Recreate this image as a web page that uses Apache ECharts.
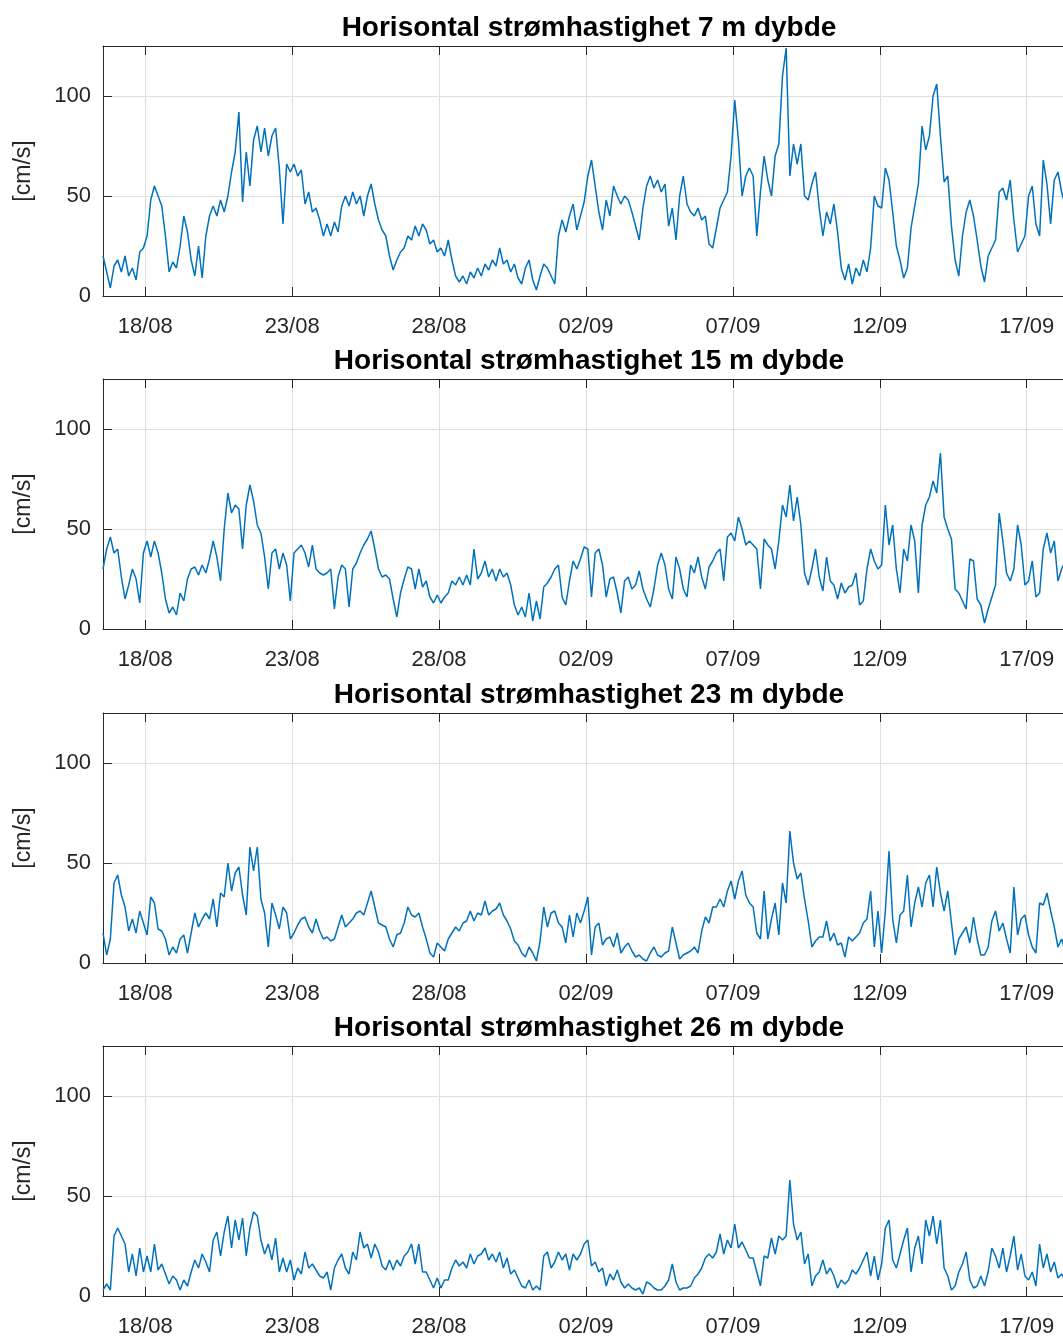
<!DOCTYPE html>
<html>
<head>
<meta charset="utf-8">
<script src="https://cdn.jsdelivr.net/npm/echarts@6/dist/echarts.min.js"></script>
<style>
  html, body { margin: 0; padding: 0; overflow: hidden; background: #ffffff; }
  #chart { width: 1075px; height: 1338px; }
</style>
</head>
<body>
<div id="chart"></div>
<script>
// Horizontal current speed [cm/s], one value every 3 hours from 16/08 13:30
const depths = ['7', '15', '23', '26'];

const speed7 = [
  20,12,4,15,18,12,20,10,
  14,8,22,24,30,48,55,50,
  45,30,12,17,14,25,40,32,
  18,10,25,9,30,40,45,40,
  48,42,50,62,72,92,47,72,
  55,78,85,72,84,70,80,84,
  64,36,66,62,66,60,63,46,
  52,42,44,38,30,36,30,37,
  32,45,50,45,52,46,50,40,
  50,56,46,38,33,30,20,13,
  18,22,24,30,28,35,30,36,
  33,26,28,22,24,20,28,18,
  10,7,10,6,12,9,14,10,
  16,13,18,15,24,16,18,12,
  16,9,6,14,18,8,3,10,
  16,14,10,6,30,38,32,40,
  46,33,40,47,60,68,55,42,
  33,48,40,55,50,46,50,48,
  42,35,28,44,55,60,54,58,
  52,56,35,44,28,50,60,46,
  42,40,44,38,40,26,24,34,
  44,48,52,70,98,78,50,60,
  64,
  60,30,52,70,58,50,70,76,
  110,124,60,76,66,76,50,48,
  56,62,44,30,42,36,46,32,
  14,8,16,6,14,10,18,12,
  24,50,45,44,64,58,42,25,
  18,9,14,34,45,56,85,73,
  80,100,106,80,57,60,35,18,
  10,30,42,48,40,28,15,7,
  20,24,28,52,54,48,58,38,
  22,26,30,50,55,36,30,68,
  56,36,58,62,52,45,50,55
];

const speed15 = [
  30,40,46,38,40,26,15,22,
  30,25,13,38,44,36,44,38,
  28,15,8,11,7,18,14,25,
  30,31,27,32,28,35,44,36,
  24,50,68,58,62,60,40,62,
  72,64,52,48,36,20,38,40,
  30,38,32,14,38,40,42,38,
  31,42,30,28,27,28,30,10,
  26,32,30,11,30,33,38,42,
  45,49,40,30,26,27,25,15,
  6,18,25,31,30,20,30,21,
  24,16,13,17,13,16,18,24,
  22,26,22,27,22,40,25,28,
  34,26,30,24,30,26,28,22,
  12,7,11,6,18,4,14,5,
  21,23,26,30,32,16,12,24,
  34,30,35,41,40,16,38,40,
  32,16,25,26,18,8,24,26,
  20,22,29,20,15,11,20,32,
  38,32,20,15,36,30,20,16,
  32,28,36,26,20,31,34,38,
  40,24,46,48,44,56,50,42,
  44,
  42,40,20,45,42,40,30,44,
  62,56,72,54,66,52,28,22,
  30,40,26,19,36,24,22,15,
  23,18,21,22,28,12,14,30,
  40,34,30,32,62,42,52,30,
  18,40,34,52,44,18,52,62,
  66,74,68,88,56,50,45,20,
  18,14,10,35,34,15,12,3,
  10,16,22,58,44,28,24,30,
  52,42,22,24,34,16,18,40,
  48,38,44,24,30,34,38,36
];

const speed23 = [
  15,4,12,40,44,34,28,16,
  22,15,26,20,14,33,30,17,
  16,12,4,8,5,12,14,5,
  15,25,18,22,25,22,32,18,
  35,33,50,36,45,48,34,24,
  58,46,58,32,25,8,30,24,
  17,28,25,12,15,19,22,23,
  18,15,22,16,12,13,11,12,
  18,24,18,20,22,25,26,24,
  30,36,28,20,19,18,12,8,
  14,15,20,28,24,23,25,18,
  12,5,3,10,8,6,12,15,
  18,16,20,21,26,21,25,24,
  31,24,26,27,30,24,21,17,
  11,9,5,3,8,5,1,11,
  28,18,25,26,20,18,10,24,
  13,25,20,26,33,4,18,20,
  9,12,13,8,15,5,8,10,
  6,3,4,2,1,5,8,4,
  3,5,6,18,10,2,4,5,
  6,8,5,16,23,20,28,28,
  32,28,36,41,32,41,46,34,
  30,
  28,15,12,36,12,22,30,14,
  40,30,66,50,42,45,32,21,
  8,11,13,13,21,11,15,9,
  10,3,13,11,13,15,20,22,
  36,8,26,5,26,56,22,10,
  24,26,44,18,30,38,28,40,
  44,28,48,35,26,36,20,4,
  12,15,18,10,23,12,4,4,
  8,21,26,16,20,12,5,38,
  14,22,24,14,8,5,30,29,
  35,26,18,8,12,6,10,8
];

const speed26 = [
  3,6,3,30,34,30,26,12,
  21,10,24,12,20,12,26,13,
  16,11,6,10,8,3,8,5,
  12,18,14,21,17,12,28,32,
  20,32,40,24,38,28,39,20,
  34,42,40,28,21,26,18,29,
  12,19,12,18,8,14,11,22,
  14,16,13,10,9,12,3,14,
  18,21,14,11,22,18,32,24,
  26,19,26,22,15,13,18,13,
  18,15,20,22,26,16,26,12,
  12,8,4,9,4,8,8,14,
  18,15,17,14,21,16,20,21,
  24,18,21,17,22,14,19,11,
  13,9,5,4,8,3,5,3,
  20,22,14,17,22,18,21,13,
  21,18,21,26,28,15,17,12,
  14,5,11,8,13,7,4,6,
  4,3,4,1,7,6,4,3,
  3,5,8,16,7,3,4,4,
  5,9,11,14,19,21,19,22,
  31,21,28,24,36,24,27,23,
  19,
  19,12,5,20,19,29,21,30,
  28,30,58,36,28,32,16,21,
  5,10,12,18,11,14,10,4,
  8,6,8,13,11,14,18,22,
  10,20,8,16,34,38,18,14,
  21,28,34,12,24,30,16,38,
  30,40,26,38,14,10,3,5,
  12,16,22,8,4,5,10,5,
  12,24,20,14,24,12,20,30,
  13,21,10,8,12,5,26,14,
  21,12,17,9,11,8,12,10
];

// Date ticks every five days (day, month)
const tickDays = [[18, 8], [23, 8], [28, 8], [2, 9], [7, 9], [12, 9], [17, 9]];
const yTicks = [0, 50, 100];
const yLabel = '[cm/s]';

const YEAR = 2021;
const startTime = Date.UTC(YEAR, 7, 16, 13, 30);
const stepMs = 3 * 3600 * 1000;
const xMin = startTime;
const xMax = Date.UTC(YEAR, 8, 18, 15, 25);
const tickTimes = tickDays.map(([d, m]) => Date.UTC(YEAR, m - 1, d));

const seriesValues = [speed7, speed15, speed23, speed26];
const titles = depths.map(d => 'Horisontal strømhastighet ' + d + ' m dybde');

const FONT = '"Liberation Sans", Arial, Helvetica, sans-serif';
const AX = '#262626';
const GRIDC = '#dedede';

const pad2 = n => (n < 10 ? '0' : '') + n;
const fmtDate = v => { const d = new Date(v); return pad2(d.getUTCDate()) + '/' + pad2(d.getUTCMonth() + 1); };

const plotLeft = 103, plotWidth = 972, plotHeight = 250;
const plotTops = [46, 379, 713, 1046];

const grid = [], xAxis = [], yAxis = [], series = [], title = [];

plotTops.forEach((top, k) => {
  grid.push({ left: plotLeft, width: plotWidth, top: top, height: plotHeight, containLabel: false });

  title.push({
    text: titles[k],
    left: plotLeft + plotWidth / 2,
    top: top - 32,
    textAlign: 'center',
    padding: 0,
    textStyle: { fontFamily: FONT, fontSize: 28, fontWeight: 'bold', color: '#000000' }
  });

  // bottom date axis (milliseconds, labelled as dd/mm)
  xAxis.push({
    type: 'value', gridIndex: k, position: 'bottom', min: xMin, max: xMax,
    axisLine: { show: true, lineStyle: { color: AX, width: 1 } },
    axisTick: { show: true, inside: true, length: 9, customValues: tickTimes, lineStyle: { color: AX, width: 1 } },
    axisLabel: { show: true, customValues: tickTimes, formatter: fmtDate, margin: 20,
                 fontFamily: FONT, fontSize: 22, color: AX },
    splitLine: { show: true, lineStyle: { color: GRIDC, width: 1 } }
  });
  // top frame with matching ticks
  xAxis.push({
    type: 'value', gridIndex: k, position: 'top', min: xMin, max: xMax,
    axisLine: { show: true, lineStyle: { color: AX, width: 1 } },
    axisTick: { show: true, inside: true, length: 9, customValues: tickTimes, lineStyle: { color: AX, width: 1 } },
    axisLabel: { show: false },
    splitLine: { show: false }
  });

  yAxis.push({
    type: 'value', gridIndex: k, min: 0, max: 125, interval: 50,
    name: yLabel, nameLocation: 'middle', nameGap: 68, nameRotate: 90,
    nameTextStyle: { fontFamily: FONT, fontSize: 23, color: AX },
    axisLine: { show: true, lineStyle: { color: AX, width: 1 } },
    axisTick: { show: true, inside: true, length: 9, customValues: yTicks, lineStyle: { color: AX, width: 1 } },
    axisLabel: { show: true, customValues: yTicks, margin: 12, fontFamily: FONT, fontSize: 22, color: AX },
    splitLine: { show: true, lineStyle: { color: GRIDC, width: 1 } }
  });

  series.push({
    type: 'line',
    xAxisIndex: 2 * k, yAxisIndex: k,
    data: seriesValues[k].map((v, i) => [startTime + i * stepMs, v]),
    showSymbol: false, symbol: 'none',
    lineStyle: { color: '#0072BD', width: 1.5 },
    clip: true, silent: true
  });
});

const chart = echarts.init(document.getElementById('chart'), null, { renderer: 'canvas' });
chart.setOption({
  animation: false,
  backgroundColor: '#ffffff',
  title, grid, xAxis, yAxis, series
});
</script>
</body>
</html>
